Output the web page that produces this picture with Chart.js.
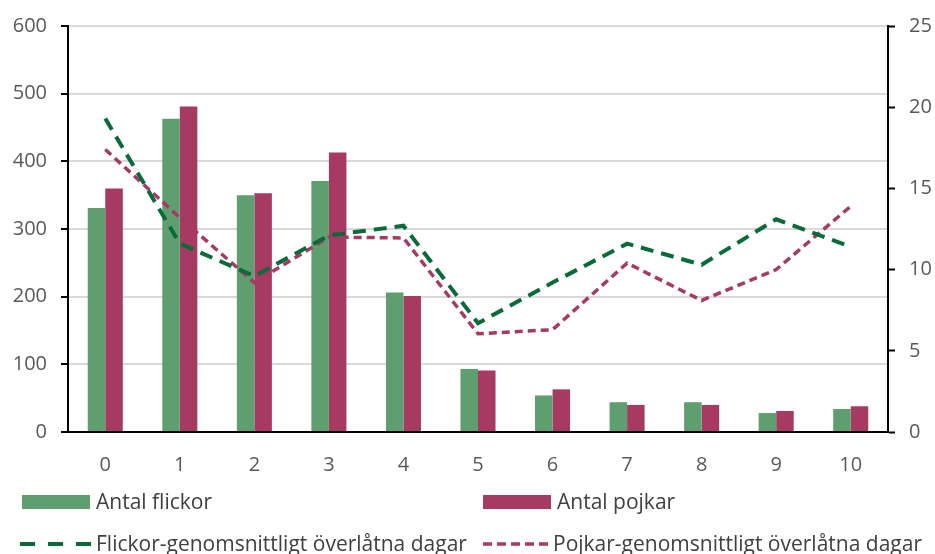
<!DOCTYPE html>
<html>
<head>
<meta charset="utf-8">
<script src="https://cdn.jsdelivr.net/npm/chart.js@4.4.0/dist/chart.umd.min.js"></script>
<style>
    html, body { margin: 0; padding: 0; background: #fff; }
    #wrap { position: relative; width: 935px; height: 554px; }
    #chart { position: absolute; left: 0; top: 0; }
    .leg { position: absolute; font-family: 'Open Sans', sans-serif; font-size: 21px; color: #404040; white-space: nowrap; line-height: 28px; }
    .sw { position: absolute; }
</style>
</head>
<body>
<div id="wrap">
    <canvas id="chart" width="935" height="554"></canvas>
    <svg class="sw" width="68" height="14" style="left:22px; top:495px;"><rect width="68" height="14" fill="#5f9e6e"/></svg>
    <div class="leg" style="left:96px; top:487px;">Antal flickor</div>
    <svg class="sw" width="68" height="14" style="left:483px; top:495px;"><rect width="68" height="14" fill="#a63a63"/></svg>
    <div class="leg" style="left:557px; top:487px;">Antal pojkar</div>
    <svg class="sw" width="72" height="10" style="left:20px; top:539px;"><line x1="0" y1="5" x2="72" y2="5" stroke="#0a6b3a" stroke-width="4" stroke-dasharray="15 13"/></svg>
    <div class="leg" style="left:96px; top:529px;">Flickor-genomsnittligt överlåtna dagar</div>
    <svg class="sw" width="68" height="10" style="left:483px; top:539px;"><line x1="0" y1="5" x2="68" y2="5" stroke="#a63a63" stroke-width="3.5" stroke-dasharray="9 5"/></svg>
    <div class="leg" style="left:553px; top:529px;">Pojkar-genomsnittligt överlåtna dagar</div>
</div>
<script>
// Categories and values
const categories = ['0', '1', '2', '3', '4', '5', '6', '7', '8', '9', '10'];
const antalFlickor = [331, 463, 350, 371, 206, 93, 54, 44, 44, 28, 34];
const antalPojkar = [360, 481, 353, 413, 201, 91, 63, 40, 40, 31, 38];
const flickorDagar = [19.3, 11.6, 9.6, 12.1, 12.7, 6.7, 9.2, 11.6, 10.3, 13.1, 11.4];
const pojkarDagar = [17.4, 13.2, 9.2, 12.0, 11.95, 6.05, 6.3, 10.4, 8.1, 10.0, 13.9];

const labelFont = { family: "'Open Sans', sans-serif", size: 20 };
const labelColor = '#595959';

const ctx = document.getElementById('chart').getContext('2d');

new Chart(ctx, {
    type: 'bar',
    data: {
        labels: categories,
        datasets: [
            {
                type: 'line',
                label: 'Flickor-genomsnittligt överlåtna dagar',
                data: flickorDagar,
                yAxisID: 'y2',
                borderColor: '#0a6b3a',
                borderWidth: 4,
                borderDash: [13, 8],
                pointRadius: 0,
                tension: 0,
                fill: false,
                order: 0
            },
            {
                type: 'line',
                label: 'Pojkar-genomsnittligt överlåtna dagar',
                data: pojkarDagar,
                yAxisID: 'y2',
                borderColor: '#a63a63',
                borderWidth: 3.5,
                borderDash: [8, 5],
                pointRadius: 0,
                tension: 0,
                fill: false,
                order: 1
            },
            {
                label: 'Antal flickor',
                data: antalFlickor,
                yAxisID: 'y',
                backgroundColor: '#5f9e6e',
                categoryPercentage: 0.47,
                barPercentage: 1,
                order: 2
            },
            {
                label: 'Antal pojkar',
                data: antalPojkar,
                yAxisID: 'y',
                backgroundColor: '#a63a63',
                categoryPercentage: 0.47,
                barPercentage: 1,
                order: 2
            }
        ]
    },
    options: {
        responsive: false,
        animation: false,
        layout: { padding: { top: 24, left: 0, right: 0, bottom: 0 } },
        plugins: {
            legend: { display: false },
            tooltip: { enabled: false }
        },
        scales: {
            x: {
                grid: { display: false },
                border: { display: true, color: '#000', width: 2 },
                ticks: { font: labelFont, color: labelColor, padding: 13 },
                afterFit: function(scale) { scale.height = 122; }
            },
            y: {
                position: 'left',
                min: 0,
                max: 600,
                ticks: { stepSize: 100, font: labelFont, color: labelColor, padding: 14 },
                grid: {
                    color: '#d9d9d9',
                    lineWidth: 2,
                    borderDash: [8, 6],
                    tickLength: 7,
                    tickColor: '#000',
                    tickWidth: 2,
                    tickBorderDash: []
                },
                border: { display: true, color: '#000', width: 2 },
                afterFit: function(scale) { scale.width = 68; }
            },
            y2: {
                position: 'right',
                min: 0,
                max: 25,
                ticks: { stepSize: 5, font: labelFont, color: labelColor, padding: 14 },
                grid: {
                    drawOnChartArea: false,
                    tickLength: 7,
                    tickColor: '#000',
                    tickWidth: 2
                },
                border: { display: true, color: '#000', width: 2 },
                afterFit: function(scale) { scale.width = 47; }
            }
        }
    }
});
</script>
</body>
</html>
